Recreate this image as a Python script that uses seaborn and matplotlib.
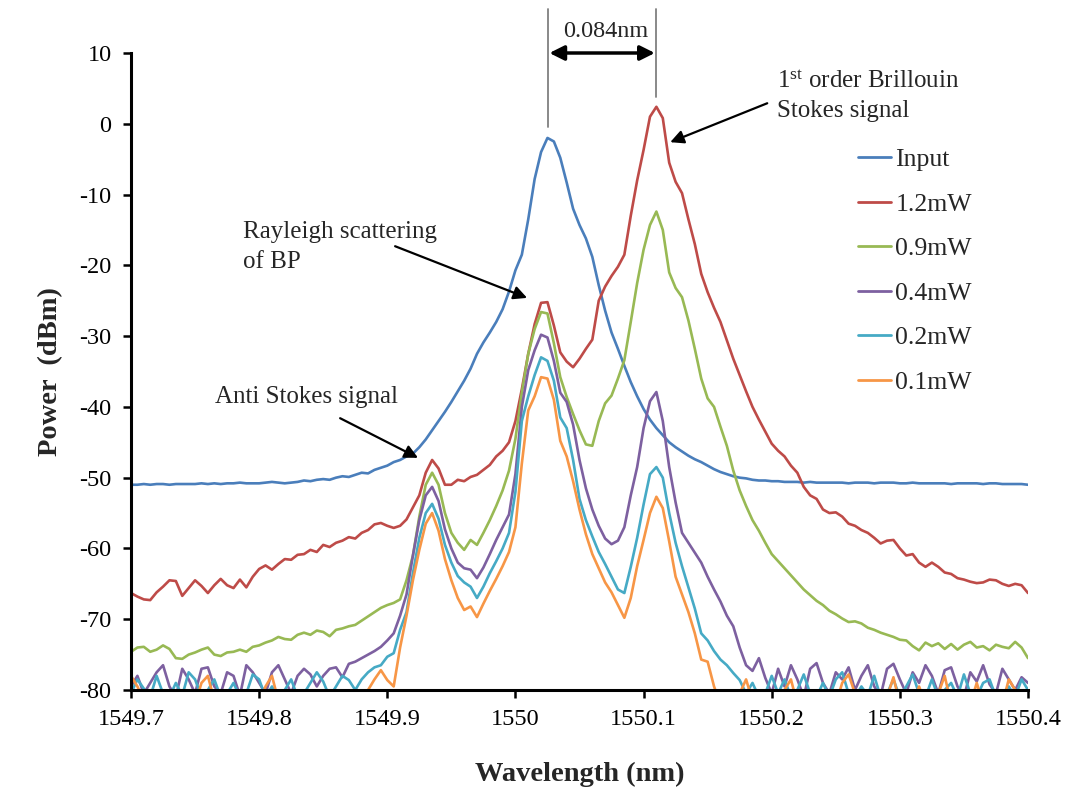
import numpy as np
import pandas as pd
import matplotlib
matplotlib.use("Agg")
import matplotlib.pyplot as plt
from matplotlib.lines import Line2D
import seaborn as sns

# ---------------- data ----------------
wavelength = np.round(np.linspace(1549.70, 1550.40, 141), 3)

series_names = ["Input", "1.2mW", "0.9mW", "0.4mW", "0.2mW", "0.1mW"]
series_colors = ["#4A7EBB", "#BE4B48", "#98B954", "#7D60A0", "#46AAC5", "#F79646"]

input_dbm = [
    -51.0, -51.0, -50.9, -51.0, -50.9, -50.9, -51.0, -50.9, -50.9, -50.9,
    -50.9, -50.8, -50.9, -50.8, -50.9, -50.8, -50.8, -50.7, -50.8, -50.8,
    -50.8, -50.7, -50.6, -50.7, -50.8, -50.7, -50.6, -50.4, -50.5, -50.3,
    -50.2, -50.3, -50.0, -49.8, -49.9, -49.6, -49.3, -49.4, -48.9, -48.6,
    -48.3, -47.8, -47.5, -47.0, -46.6, -45.7, -44.6, -43.3, -42.0, -40.7,
    -39.3, -37.8, -36.3, -34.6, -32.5, -30.9, -29.5, -28.0, -26.2, -23.7,
    -20.7, -18.5, -13.5, -7.8, -4.0, -2.0, -2.5, -4.8, -8.3, -12.0,
    -14.3, -16.2, -18.8, -22.8, -26.4, -29.5, -31.8, -34.2, -36.5, -38.5,
    -40.3, -41.8, -43.0, -44.0, -45.0, -45.7, -46.3, -46.9, -47.4, -47.8,
    -48.3, -48.8, -49.2, -49.5, -49.8, -50.0, -50.1, -50.3, -50.4, -50.4,
    -50.5, -50.5, -50.6, -50.6, -50.6, -50.7, -50.6, -50.7, -50.7, -50.7,
    -50.7, -50.7, -50.8, -50.7, -50.7, -50.7, -50.8, -50.7, -50.7, -50.7,
    -50.8, -50.8, -50.7, -50.8, -50.8, -50.8, -50.8, -50.8, -50.9, -50.8,
    -50.8, -50.8, -50.8, -50.9, -50.8, -50.8, -50.9, -50.9, -50.9, -50.9,
    -51.0,
]

p12_dbm = [
    -66.3, -66.8, -67.2, -67.3, -66.2, -65.4, -64.5, -64.6, -66.7, -65.6,
    -64.5, -65.3, -66.3, -65.2, -64.3, -65.2, -65.6, -64.4, -65.5, -64.0,
    -62.9, -62.4, -63.0, -62.2, -61.5, -61.6, -60.9, -60.8, -60.2, -60.5,
    -59.5, -59.8, -59.2, -58.9, -58.4, -58.6, -57.8, -57.4, -56.6, -56.4,
    -56.8, -57.1, -56.8, -55.9, -54.2, -52.5, -49.3, -47.5, -48.7, -51.0,
    -51.0, -50.3, -50.5, -49.9, -49.6, -48.9, -48.2, -47.0, -46.2, -45.0,
    -42.0, -37.5, -32.5, -28.3, -25.3, -25.2, -28.5, -32.3, -33.6, -34.4,
    -33.2, -31.8, -30.5, -25.0, -23.0, -21.5, -20.2, -18.5, -13.0, -8.0,
    -3.7, 1.0, 2.4, 0.8, -5.5, -8.2, -9.8, -13.5, -17.0, -21.2,
    -23.8, -26.0, -28.0, -30.6, -33.2, -35.5, -37.8, -40.0, -41.8, -43.5,
    -45.2, -46.2, -47.0, -48.3, -49.3, -51.3, -52.5, -53.0, -54.5, -55.0,
    -54.9, -55.5, -56.5, -56.8, -57.4, -57.8, -58.5, -59.3, -58.9, -58.8,
    -60.0, -61.0, -60.8, -62.0, -62.6, -62.0, -62.6, -63.4, -63.6, -64.2,
    -64.4, -64.7, -64.9, -64.8, -64.4, -64.5, -65.0, -65.3, -65.0, -65.2,
    -66.3,
]

p09_dbm = [
    -74.6, -74.0, -73.9, -74.6, -74.3, -73.7, -74.2, -75.5, -75.6, -75.0,
    -74.7, -74.3, -74.0, -75.0, -75.2, -74.7, -74.6, -74.3, -74.6, -73.9,
    -73.7, -73.3, -73.0, -72.5, -72.8, -72.9, -72.2, -71.9, -72.2, -71.6,
    -71.8, -72.4, -71.5, -71.3, -71.0, -70.8, -70.2, -69.6, -69.0, -68.4,
    -68.0, -67.7, -67.2, -64.5, -61.0, -55.5, -51.0, -49.3, -51.0, -55.0,
    -57.8, -59.2, -60.2, -58.8, -59.5, -57.8, -56.0, -54.0, -51.8, -49.0,
    -44.5, -38.0, -32.5, -29.0, -26.6, -26.8, -31.0, -35.8, -38.6, -41.0,
    -43.3, -45.3, -45.5, -42.0, -39.5, -38.4, -36.0, -33.4, -28.0, -22.5,
    -17.8, -14.3, -12.4, -15.0, -21.0, -23.2, -24.5, -27.8, -31.8, -36.0,
    -38.8, -40.0, -42.8, -45.5, -49.0, -51.8, -54.0, -56.0, -57.5, -59.2,
    -60.8, -61.8, -62.8, -63.8, -64.8, -65.8, -66.6, -67.4, -68.0, -68.8,
    -69.3, -69.9, -70.4, -70.3, -70.6, -71.2, -71.5, -71.9, -72.2, -72.5,
    -72.9, -73.0, -73.8, -74.4, -73.3, -73.8, -73.4, -74.2, -73.5, -74.3,
    -73.6, -73.2, -74.0, -73.8, -74.4, -73.6, -73.9, -74.1, -73.2, -74.0,
    -75.5,
]

p04_dbm = [
    -79.5, -78.0, -80.5, -79.0, -77.5, -76.5, -79.5, -81.0, -77.0, -78.5,
    -80.5, -77.0, -76.8, -79.5, -80.5, -77.5, -78.0, -80.8, -76.5, -77.5,
    -79.0, -80.5, -77.5, -76.5, -78.5, -80.5, -78.0, -77.0, -77.8, -79.5,
    -78.0, -77.0, -76.8, -78.2, -76.3, -76.0, -75.5, -75.0, -74.5, -73.9,
    -73.0, -72.0, -69.5, -66.5, -61.0, -56.0, -52.5, -51.3, -53.3, -57.3,
    -60.0, -62.0, -62.8, -63.0, -64.2, -62.7, -60.8, -58.8, -57.0, -55.2,
    -49.5, -40.0, -34.8, -32.0, -29.8, -30.2, -33.5, -38.0, -39.3, -42.5,
    -47.5, -51.5, -54.5, -56.8, -58.6, -59.4, -58.9, -57.0, -52.5, -48.5,
    -43.0, -39.2, -37.9, -42.0, -48.5, -53.5, -57.8, -59.2, -60.6, -62.0,
    -64.0, -65.8, -67.5, -69.5, -71.0, -74.0, -76.5, -77.3, -75.5, -78.3,
    -80.5, -77.0, -79.5, -76.5, -78.5, -81.0, -77.0, -76.2, -79.0, -80.5,
    -77.5, -78.5, -76.8, -80.0, -78.0, -76.5, -79.5, -80.8, -77.0, -76.3,
    -78.5, -80.5, -77.5, -79.0, -76.5, -78.0, -80.5, -77.2, -76.8, -79.5,
    -81.0, -77.5, -78.8, -76.5, -79.2, -80.5, -77.0, -78.5, -80.0, -78.2,
    -79.0,
]

p02_dbm = [
    -80.5, -78.5, -79.8, -81.0, -78.0, -80.5, -81.0, -79.0, -80.8, -77.5,
    -78.5, -81.0, -80.0, -78.5, -81.0, -80.5, -79.0, -81.0, -80.5, -77.8,
    -78.5, -81.0, -79.5, -81.0, -80.0, -78.5, -81.0, -80.5, -79.0, -77.5,
    -78.8, -81.0, -79.5, -78.0, -78.6, -80.0, -78.5, -77.5, -76.8, -76.5,
    -75.3, -74.8, -71.5, -69.0, -63.5, -58.5, -55.0, -53.7, -55.8, -59.5,
    -62.0, -63.9, -64.8, -65.4, -67.0, -65.4, -63.5, -61.8, -60.0, -57.8,
    -52.0, -42.0, -38.5, -35.5, -33.0, -33.5, -36.3, -41.5, -43.0, -47.5,
    -53.0, -56.0, -58.3, -60.5, -62.2, -64.0, -65.8, -66.3, -62.6, -58.5,
    -53.8, -49.5, -48.5, -50.0, -55.0, -59.2, -62.5, -65.5, -68.5, -72.0,
    -73.0, -74.5, -75.7, -76.5, -77.6, -78.6, -80.5, -79.0, -81.0, -80.5,
    -78.0, -80.5, -78.5, -81.0, -80.0, -77.8, -80.5, -81.0, -79.0, -81.0,
    -78.5, -77.5, -80.5, -81.0, -79.5, -80.8, -78.0, -81.0, -80.5, -78.5,
    -81.0, -79.5, -77.8, -80.5, -81.0, -78.5, -81.0, -80.0, -79.0, -81.0,
    -77.8, -80.5, -81.0, -79.0, -78.5, -81.0, -80.5, -79.5, -81.0, -78.5,
    -80.0,
]

p01_dbm = [
    -78.0, -79.5, -81.5, -82.0, -82.0, -81.0, -82.0, -82.0, -82.0, -81.5,
    -82.0, -79.0, -78.0, -81.5, -82.0, -82.0, -82.0, -81.0, -82.0, -82.0,
    -82.0, -79.5, -78.0, -81.5, -82.0, -82.0, -82.0, -82.0, -81.0, -82.0,
    -82.0, -82.0, -82.0, -82.0, -82.0, -82.0, -82.0, -80.0, -78.5, -77.2,
    -78.6, -79.5, -74.0, -69.5, -64.5, -60.2, -56.5, -55.0, -57.5, -61.5,
    -64.5, -67.0, -68.7, -68.2, -69.7, -67.8, -66.0, -64.3, -62.5, -60.5,
    -57.0, -48.0, -40.5, -38.5, -35.8, -36.0, -39.0, -44.8, -47.0, -50.5,
    -54.5, -58.0, -60.8, -62.8, -64.8, -66.2, -68.0, -69.8, -67.0, -62.5,
    -58.8, -55.0, -52.7, -54.3, -59.0, -64.0, -66.5, -69.0, -72.0, -75.7,
    -76.0, -79.5, -82.0, -82.0, -82.0, -80.5, -78.5, -81.5, -82.0, -82.0,
    -82.0, -82.0, -80.0, -78.5, -82.0, -82.0, -82.0, -81.0, -82.0, -82.0,
    -82.0, -79.0, -77.8, -80.5, -82.0, -82.0, -82.0, -82.0, -81.0, -78.2,
    -82.0, -82.0, -82.0, -79.5, -82.0, -82.0, -80.5, -78.0, -82.0, -82.0,
    -82.0, -82.0, -79.0, -82.0, -82.0, -82.0, -82.0, -78.5, -80.0, -82.0,
    -82.0,
]

x_ticks = [1549.7, 1549.8, 1549.9, 1550.0, 1550.1, 1550.2, 1550.3, 1550.4]
x_tick_labels = ["1549.7", "1549.8", "1549.9", "1550", "1550.1", "1550.2", "1550.3", "1550.4"]
y_ticks = [10, 0, -10, -20, -30, -40, -50, -60, -70, -80]

all_series = [input_dbm, p12_dbm, p09_dbm, p04_dbm, p02_dbm, p01_dbm]
frames = []
for name, vals in zip(series_names, all_series):
    frames.append(pd.DataFrame({"Wavelength": wavelength, "Power": vals, "Series": name}))
df = pd.concat(frames, ignore_index=True)

# ---------------- style ----------------
sns.set_style("ticks")
plt.rcParams["font.family"] = ["Liberation Serif", "DejaVu Serif"]
plt.rcParams["axes.unicode_minus"] = False
plt.rcParams["mathtext.fontset"] = "custom"
plt.rcParams["mathtext.rm"] = "Liberation Serif"
plt.rcParams["mathtext.it"] = "Liberation Serif:italic"
plt.rcParams["mathtext.bf"] = "Liberation Serif:bold"

fig = plt.figure(figsize=(10.75, 7.95), dpi=100)
ax = fig.add_axes([131 / 1075, 1 - 690 / 795, (1028 - 131) / 1075, (690 - 53) / 795])

sns.lineplot(data=df, x="Wavelength", y="Power", hue="Series", hue_order=series_names,
             palette=dict(zip(series_names, series_colors)), linewidth=1.9,
             sort=False, estimator=None, legend=False, ax=ax)

ax.set_xlim(1549.7, 1550.4)
ax.set_ylim(-80, 10)
ax.set_xticks(x_ticks)
ax.set_xticklabels(x_tick_labels)
ax.set_yticks(y_ticks)
ax.set_yticklabels([str(v) for v in y_ticks])
for s in ["top", "right"]:
    ax.spines[s].set_visible(False)
for s in ["left", "bottom"]:
    ax.spines[s].set_linewidth(2.2)
    ax.spines[s].set_color("black")
ax.tick_params(axis="both", direction="out", length=6, width=1.8, labelsize=17.5, colors="black")
ax.tick_params(axis="y", pad=8)
ax.tick_params(axis="x", pad=8)

ax.set_xlabel("Wavelength (nm)", fontsize=20.5, fontweight="bold")
ax.set_ylabel("Power  (dBm)", fontsize=20.5, fontweight="bold")
ax.xaxis.set_label_coords(0.5, -0.112)
ax.yaxis.set_label_coords(-0.076, 0.5)

# legend
handles = [Line2D([0], [0], color=c, lw=2.0) for c in series_colors]
fig.legend(handles, series_names, loc="upper left", bbox_to_anchor=(858 / 1075, 1 - 148 / 795),
           frameon=False, fontsize=18.5, handlelength=1.3, handletextpad=0.15,
           labelspacing=0.84, borderpad=0, borderaxespad=0)

# annotations
arrow_kw = dict(arrowstyle="-|>", color="black", lw=1.6, mutation_scale=20, shrinkA=0, shrinkB=0)

# 0.084 nm spacing marker
ax.plot([1550.0255, 1550.0255], [-0.5, 16.2], color="#808080", lw=1.3, clip_on=False)
ax.plot([1550.1098, 1550.1098], [3.8, 16.2], color="#808080", lw=1.3, clip_on=False)
ax.annotate("", xy=(1550.1088, 10), xytext=(1550.0265, 10),
            arrowprops=dict(arrowstyle="<|-|>", color="black", lw=2.5, mutation_scale=22,
                            shrinkA=0, shrinkB=0), annotation_clip=False)
ax.text(1550.0708, 13.0, "0.084nm", fontsize=17.5, ha="center", va="center")

# Brillouin Stokes
ax.text(1550.2043, 6.0, r"1$^{\mathrm{st}}$ order Brillouin", fontsize=18, ha="left", va="center")
ax.text(1550.2043, 1.8, "Stokes signal", fontsize=18, ha="left", va="center")
ax.annotate("", xy=(1550.1208, -2.6), xytext=(1550.1965, 2.9), arrowprops=arrow_kw)

# Rayleigh scattering
ax.text(1549.7874, -15.3, "Rayleigh scattering", fontsize=18, ha="left", va="center")
ax.text(1549.7874, -19.5, "of BP", fontsize=18, ha="left", va="center")
ax.annotate("", xy=(1550.0091, -24.6), xytext=(1549.9061, -17.3), arrowprops=arrow_kw)

# Anti Stokes
ax.text(1549.7656, -38.6, "Anti Stokes signal", fontsize=18, ha="left", va="center")
ax.annotate("", xy=(1549.9240, -47.2), xytext=(1549.8632, -41.6), arrowprops=arrow_kw)

fig.savefig("out.png", dpi=100, facecolor="white")
